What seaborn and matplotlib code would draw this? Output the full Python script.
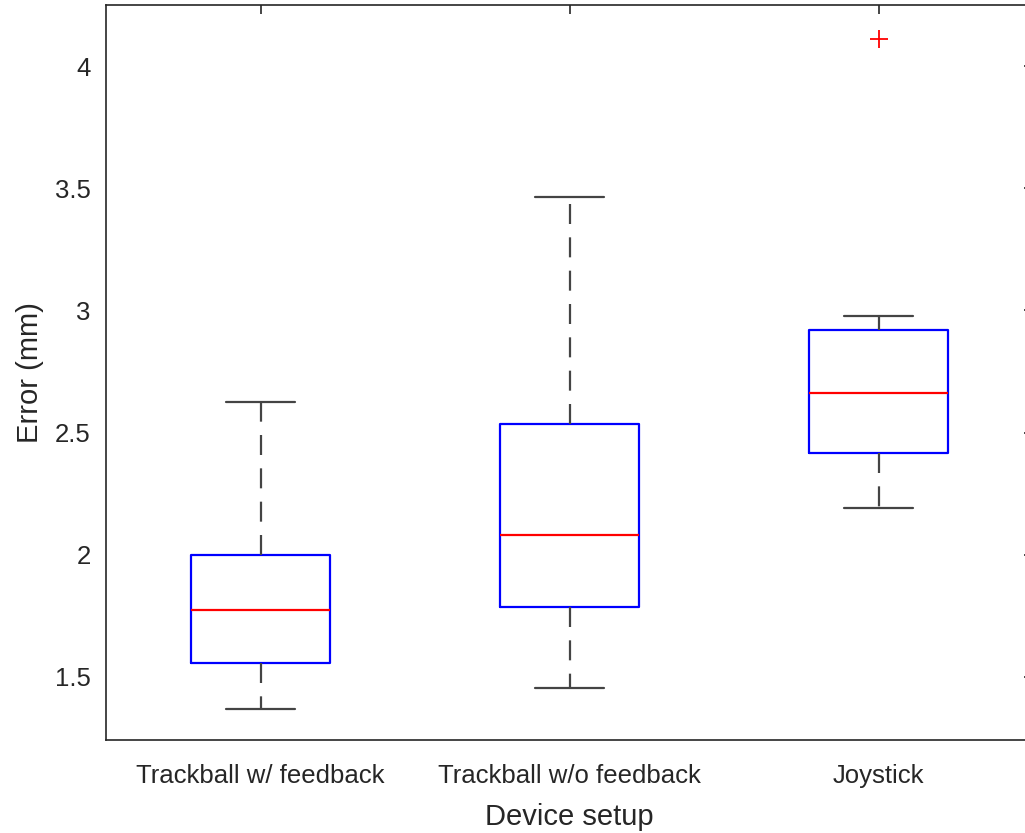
import numpy as np
import seaborn as sns
import matplotlib.pyplot as plt

# box statistics
setups = ["Trackball w/ feedback", "Trackball w/o feedback", "Joystick"]
whis_lo = [1.37, 1.455, 2.19]
q1 = [1.557, 1.787, 2.418]
med = [1.772, 2.083, 2.662]
q3 = [2.0, 2.535, 2.918]
whis_hi = [2.625, 3.465, 2.977]
outliers = [[], [], [4.11]]

sns.set_style('white')
plt.rcParams['font.family'] = ['Liberation Sans', 'DejaVu Sans']

fig = plt.figure(figsize=(10.25, 8.33), dpi=100)
ax = fig.add_axes([106 / 1025, 1 - 740 / 833, 927 / 1025, 735 / 833])

stats = []
for i, name in enumerate(setups):
    stats.append(dict(label=name, whislo=whis_lo[i], q1=q1[i], med=med[i],
                      q3=q3[i], whishi=whis_hi[i], fliers=outliers[i]))

ax.bxp(stats, positions=[1, 2, 3], widths=0.45, showfliers=True,
       boxprops=dict(color='#0000ff', linewidth=1.6),
       medianprops=dict(color='#ff0000', linewidth=1.6),
       whiskerprops=dict(color='#444444', linewidth=1.6, linestyle=(0, (9, 6))),
       capprops=dict(color='#444444', linewidth=1.6),
       capwidths=0.225,
       flierprops=dict(marker='+', markeredgecolor='#ff0000', markersize=13,
                       markeredgewidth=1.3, linestyle='none'))

ax.set_xlim(0.5, 3.5)
ax.set_ylim(1.242, 4.25)
ax.set_yticks([1.5, 2, 2.5, 3, 3.5, 4])
ax.set_yticklabels(['1.5', '2', '2.5', '3', '3.5', '4'])
ax.set_xticks([1, 2, 3])
ax.set_xticklabels(setups)

for s in ax.spines.values():
    s.set_color('#262626')
    s.set_linewidth(1.2)
ax.tick_params(axis='both', direction='in', length=6.5, width=1.2, color='#262626',
               labelcolor='#262626', labelsize=18.5, top=True, right=True)
ax.tick_params(axis='x', pad=17)
ax.tick_params(axis='y', pad=11)

ax.set_xlabel("Device setup", fontsize=21, color='#262626', labelpad=11)
ax.set_ylabel("Error (mm)", fontsize=21, color='#262626', labelpad=8)

fig.savefig('out.png', dpi=100)
